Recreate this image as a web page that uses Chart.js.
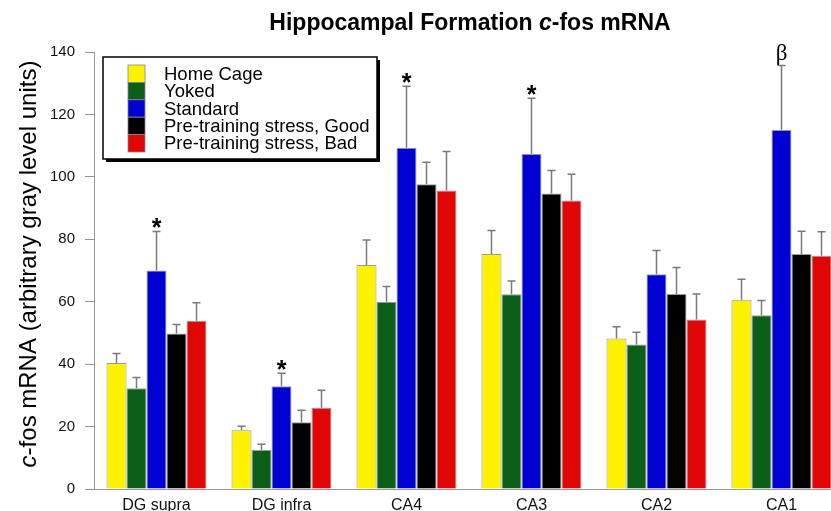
<!DOCTYPE html>
<html>
<head>
<meta charset="utf-8">
<script src="https://cdn.jsdelivr.net/npm/chart.js@4/dist/chart.umd.min.js"></script>
<style>
  html, body { margin: 0; padding: 0; background: #fff; overflow: hidden; }
  canvas { display: block; }
</style>
</head>
<body>
<canvas id="grafico" width="850" height="511"></canvas>
<script>
const regioes = ["DG supra", "DG infra", "CA4", "CA3", "CA2", "CA1"];
const grupos = ["Home Cage", "Yoked", "Standard", "Pre-training stress, Good", "Pre-training stress, Bad"];
const cores = ["#fff200", "#0b5f19", "#0000d2", "#000000", "#e00606"];

// médias e erro padrão (só a parte de cima é desenhada)
const homeCage = [40.4, 18.8, 71.8, 75.3, 48.2, 60.6];
const homeCageSem = [3.0, 1.3, 8.0, 7.5, 3.8, 6.6];
const yoked = [32.3, 12.5, 60.0, 62.4, 46.3, 55.7];
const yokedSem = [3.4, 1.8, 4.9, 4.2, 3.9, 4.7];
const standard = [70.0, 32.9, 109.3, 107.3, 68.8, 115.0];
const standardSem = [12.5, 4.2, 19.7, 17.9, 7.6, 20.7];
const stressGood = [49.8, 21.4, 97.6, 94.7, 62.5, 75.3];
const stressGoodSem = [2.9, 3.8, 7.1, 7.3, 8.5, 7.3];
const stressBad = [53.9, 26.0, 95.6, 92.4, 54.3, 74.7];
const stressBadSem = [5.8, 5.6, 12.5, 8.4, 8.2, 7.7];

// marcas de significância sobre a barra "Standard"
const marcas = ["*", "*", "*", "*", "", "β"];

const yTicks = [0, 20, 40, 60, 80, 100, 120, 140];

const SANS = '"Liberation Sans", Arial, Helvetica, sans-serif';
Chart.defaults.font.family = SANS;

const valores = [homeCage, yoked, standard, stressGood, stressBad];
const erros = [homeCageSem, yokedSem, standardSem, stressGoodSem, stressBadSem];

// texto com partes em itálico
function desenhaMisto(ctx, partes, size, bold, cx, cy) {
  const fonte = (it) => `${it ? "italic " : ""}${bold ? "bold " : ""}${size}px ${SANS}`;
  const w = partes.map(([txt, it]) => {
    ctx.font = fonte(it);
    return ctx.measureText(txt).width;
  });
  const total = w.reduce((a, b) => a + b, 0);
  let x = cx - total / 2;
  ctx.textAlign = "left";
  partes.forEach(([txt, it], k) => {
    ctx.font = fonte(it);
    ctx.fillText(txt, x, cy);
    x += w[k];
  });
}

const errorBars = {
  id: "errorBars",
  afterDatasetsDraw(chart) {
    const ctx = chart.ctx;
    const y = chart.scales.y;
    ctx.save();
    ctx.strokeStyle = "#7a7a7a";
    ctx.lineWidth = 1.5;
    chart.data.datasets.forEach((ds, d) => {
      const meta = chart.getDatasetMeta(d);
      meta.data.forEach((bar, i) => {
        const topo = y.getPixelForValue(ds.data[i] + ds.sem[i]);
        ctx.beginPath();
        ctx.moveTo(bar.x, bar.y);
        ctx.lineTo(bar.x, topo);
        ctx.moveTo(bar.x - 4, topo);
        ctx.lineTo(bar.x + 4, topo);
        ctx.stroke();
        if (d === 2 && marcas[i]) {
          ctx.fillStyle = "#000";
          ctx.textAlign = "center";
          ctx.textBaseline = "alphabetic";
          if (marcas[i] === "*") {
            ctx.font = `bold 25px ${SANS}`;
            ctx.fillText("*", bar.x, topo + 5);
          } else {
            ctx.font = '23px "Liberation Serif", "Times New Roman", serif';
            ctx.fillText(marcas[i], bar.x, topo - 5);
          }
        }
      });
    });
    ctx.restore();
  },
};

const extras = {
  id: "extras",
  afterDraw(chart) {
    const ctx = chart.ctx;
    ctx.save();
    ctx.fillStyle = "#000";
    ctx.textBaseline = "alphabetic";

    // título
    desenhaMisto(ctx, [["Hippocampal Formation ", false], ["c", true], ["-fos mRNA", false]], 23, true, 470, 30);

    // rótulo do eixo y
    ctx.save();
    ctx.translate(36, 264);
    ctx.rotate(-Math.PI / 2);
    desenhaMisto(ctx, [["c", true], ["-fos mRNA (arbitrary gray level units)", false]], 24, false, 0, 0);
    ctx.restore();

    // legenda
    const bx = 103, by = 57, bw = 274, bh = 102;
    ctx.fillStyle = "#000";
    ctx.fillRect(bx + 3, by + 3, bw, bh);
    ctx.fillStyle = "#fff";
    ctx.fillRect(bx, by, bw, bh);
    ctx.strokeStyle = "#000";
    ctx.lineWidth = 1.5;
    ctx.strokeRect(bx, by, bw, bh);
    const linha = 17.4;
    grupos.forEach((g, k) => {
      const yy = 65 + k * linha;
      ctx.fillStyle = cores[k];
      ctx.fillRect(128, yy, 17, linha);
      ctx.strokeStyle = "#888";
      ctx.lineWidth = 0.8;
      ctx.strokeRect(128, yy, 17, linha);
      ctx.fillStyle = "#000";
      ctx.font = `18.5px ${SANS}`;
      ctx.textAlign = "left";
      ctx.textBaseline = "middle";
      ctx.fillText(g, 164, yy + linha / 2 + 1);
    });
    ctx.restore();
  },
};

new Chart(document.getElementById("grafico"), {
  type: "bar",
  data: {
    labels: regioes,
    datasets: grupos.map((g, k) => ({
      label: g,
      data: valores[k],
      sem: erros[k],
      backgroundColor: cores[k],
      borderColor: "#999",
      borderWidth: 1,
      categoryPercentage: 0.8,
      barPercentage: 1.0,
    })),
  },
  options: {
    responsive: false,
    animation: false,
    layout: { padding: { top: 52, right: 6, left: 0, bottom: 0 } },
    plugins: {
      legend: { display: false },
      title: { display: false },
      tooltip: { enabled: false },
    },
    scales: {
      x: {
        grid: { display: false, drawTicks: false },
        border: { display: true, color: "#999", width: 1 },
        ticks: { color: "#111", font: { size: 16 }, padding: 7 },
        afterFit(s) { s.height = 22; },
      },
      y: {
        min: 0,
        max: 140,
        afterBuildTicks(s) { s.ticks = yTicks.map((v) => ({ value: v })); },
        ticks: { color: "#111", font: { size: 15 }, padding: 10 },
        grid: { drawOnChartArea: false, tickLength: 9, color: "#999" },
        border: { color: "#999", width: 1 },
        afterFit(s) { s.width = 94; },
      },
    },
  },
  plugins: [errorBars, extras],
});
</script>
</body>
</html>
